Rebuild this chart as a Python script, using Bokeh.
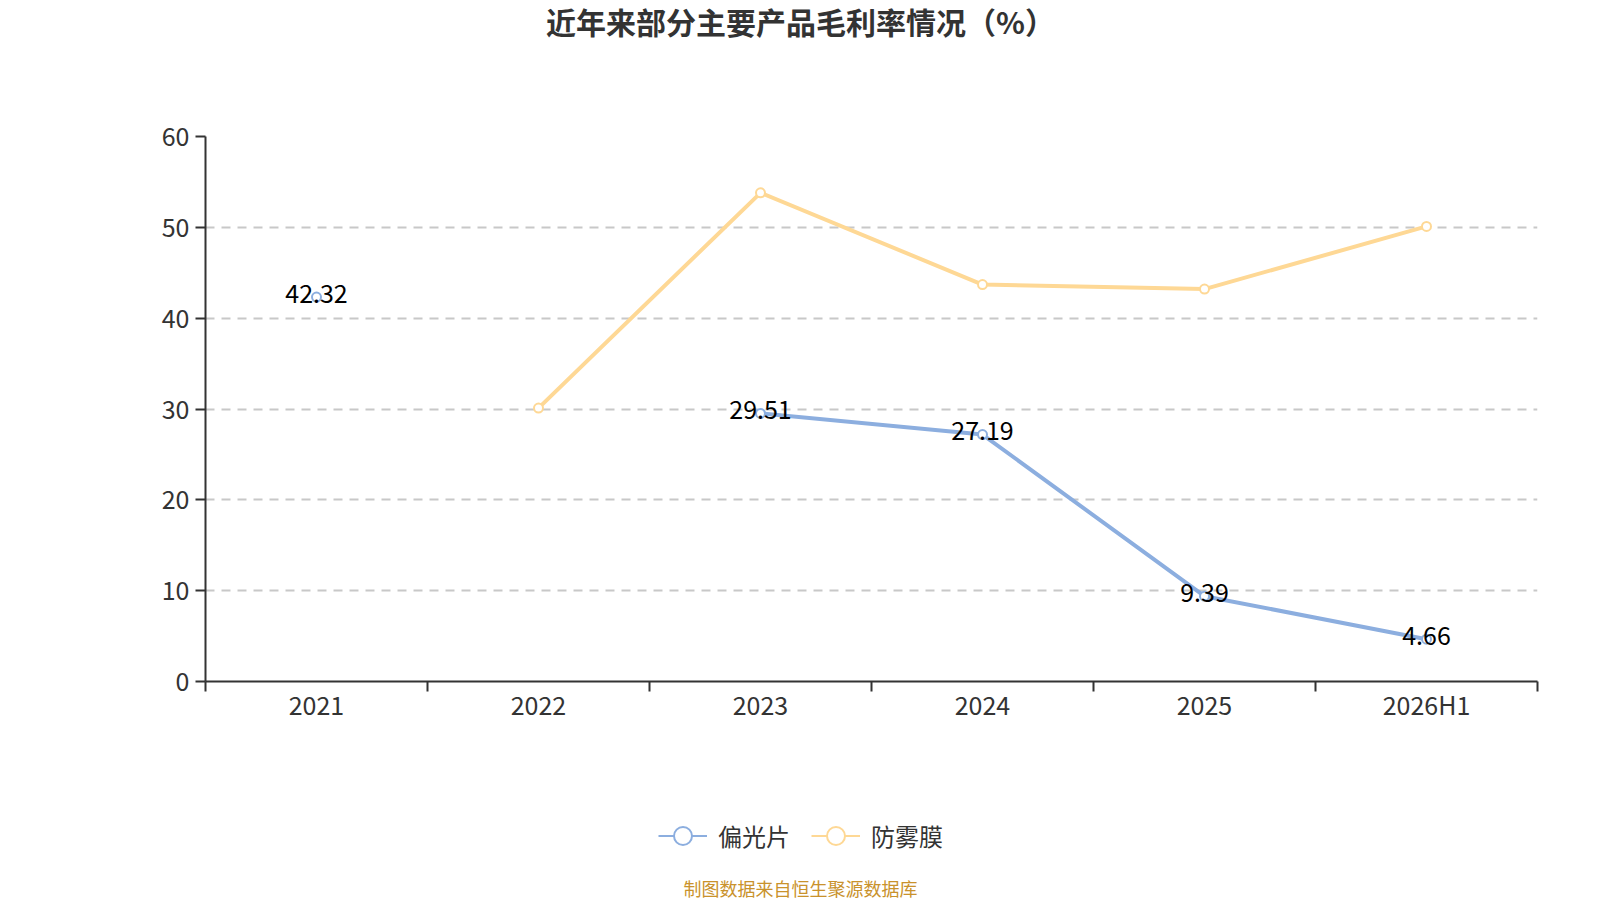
from bokeh.plotting import figure
from bokeh.layouts import column
from bokeh.models import (ColumnDataSource, FixedTicker, Range1d, Label, Legend, LegendItem)
from bokeh.core.properties import value
from bokeh.embed import file_html
from bokeh.resources import INLINE

# ---- data ----
categories = ["2021", "2022", "2023", "2024", "2025", "2026H1"]
polarizer = [42.32, None, 29.51, 27.19, 9.39, 4.66]      # 偏光片
antifog = [None, 30.1, 53.8, 43.7, 43.2, 50.1]          # 防雾膜
series_names = ["偏光片", "防雾膜"]
y_ticks = [0, 10, 20, 30, 40, 50, 60]
title_text = "近年来部分主要产品毛利率情况（%）"
source_text = "制图数据来自恒生聚源数据库"

FONT = "Noto Sans CJK SC"
BLUE = "#8caedf"
YELLOW = "#fed895"
AXIS = "#333333"
LEFT, FW, RIGHT = 205, 1332, 55

xs = [i + 1 for i in range(len(categories))]
nan = float("nan")
pol_y = [nan if v is None else v for v in polarizer]
af_y = [nan if v is None else v for v in antifog]

src = ColumnDataSource(dict(x=xs, pol=pol_y, af=af_y))
lab_x = [x for x, v in zip(xs, polarizer) if v is not None]
lab_y = [v for v in polarizer if v is not None]
lab_t = [f"{v:.2f}" for v in polarizer if v is not None]
lab_src = ColumnDataSource(dict(x=lab_x, y=lab_y, t=lab_t))


def blank(h):
    # strip whose data x equals page x, data y equals pixels from strip top
    f = figure(frame_width=FW, frame_height=h, min_border_left=LEFT, min_border_right=RIGHT,
               min_border_top=0, min_border_bottom=0,
               x_range=Range1d(LEFT, LEFT + FW), y_range=Range1d(h, 0),
               x_axis_type=None, y_axis_type=None,
               output_backend="svg", toolbar_location=None,
               background_fill_color="white", border_fill_color="white")
    f.outline_line_color = None
    f.xgrid.visible = False
    f.ygrid.visible = False
    return f

# ---- title strip ----
top = blank(60)
top.add_layout(Label(x=800, y=20.5, text=title_text, text_align="center",
                     text_baseline="middle", text_font=FONT, text_font_size="30px",
                     text_font_style="bold", text_color="#333333"))

# ---- main chart ----
p = figure(frame_width=FW, frame_height=545,
           min_border_left=LEFT, min_border_right=RIGHT,
           min_border_top=76, min_border_bottom=59,
           x_range=Range1d(0.5, len(categories) + 0.5),
           y_range=Range1d(0, 60),
           output_backend="svg", toolbar_location=None,
           background_fill_color="white", border_fill_color="white")
p.outline_line_color = None

p.xaxis.ticker = FixedTicker(ticks=xs, minor_ticks=[x - 0.5 for x in xs] + [xs[-1] + 0.5])
p.xaxis.major_label_overrides = {x: c for x, c in zip(xs, categories)}
p.xaxis.major_tick_line_color = None
p.xaxis.major_tick_out = 0
p.xaxis.major_tick_in = 0
p.xaxis.minor_tick_line_color = AXIS
p.xaxis.minor_tick_line_width = 2
p.xaxis.minor_tick_out = 10
p.xaxis.minor_tick_in = 0
p.xaxis.major_label_standoff = -6

p.yaxis.ticker = FixedTicker(ticks=y_ticks)
p.yaxis.minor_tick_line_color = None
p.yaxis.major_tick_out = 10
p.yaxis.major_tick_in = 0
p.yaxis.major_tick_line_width = 2
p.yaxis.major_tick_line_color = AXIS
p.yaxis.major_label_standoff = 6

for ax in (p.xaxis, p.yaxis):
    ax.axis_line_color = AXIS
    ax.axis_line_width = 2
    ax.major_label_text_font = FONT
    ax.major_label_text_font_size = "25px"
    ax.major_label_text_color = "#333333"

p.xgrid.grid_line_color = None
p.ygrid.ticker = FixedTicker(ticks=y_ticks)
p.ygrid.grid_line_color = "#c8c8c8"
p.ygrid.grid_line_width = 2
p.ygrid.grid_line_dash = "9 7"

p.line("x", "af", source=src, line_color=YELLOW, line_width=4)
p.scatter("x", "af", source=src, marker="circle", size=9, fill_color="white",
          line_color=YELLOW, line_width=2)
p.line("x", "pol", source=src, line_color=BLUE, line_width=4)
p.scatter("x", "pol", source=src, marker="circle", size=9, fill_color="white",
          line_color=BLUE, line_width=2)

p.text("x", "y", text="t", source=lab_src, text_align="center", text_baseline="middle",
       y_offset=-4, text_font=value(FONT), text_font_size="25px", text_color="#000000")

# ---- legend + source strip ----
BH = 159
bot = blank(BH)
# legend-only placeholder renderers, kept outside the visible strip
off = ColumnDataSource(dict(x=[-10000], y=[-10000]))
lb = bot.line("x", "y", source=off, line_color=BLUE, line_width=2)
sb = bot.scatter("x", "y", source=off, marker="circle", size=18, fill_color="white",
                 line_color=BLUE, line_width=2)
ly = bot.line("x", "y", source=off, line_color=YELLOW, line_width=2)
sy = bot.scatter("x", "y", source=off, marker="circle", size=18, fill_color="white",
                 line_color=YELLOW, line_width=2)
legend = Legend(items=[LegendItem(label=series_names[0], renderers=[lb, sb]),
                       LegendItem(label=series_names[1], renderers=[ly, sy])],
                location=(658 - LEFT, 41.5), orientation="horizontal",
                glyph_width=49, glyph_height=45, label_standoff=11, spacing=21,
                padding=0, margin=0,
                border_line_color=None, background_fill_alpha=0,
                label_text_font=FONT, label_text_font_size="24px",
                label_text_color="#333333")
bot.add_layout(legend, "center")
bot.add_layout(Label(x=800, y=147, text=source_text, text_align="center",
                     text_baseline="middle", text_font=FONT, text_font_size="18px",
                     text_color="#c9922c"))

layout = column(top, p, bot, spacing=0)
open("out.html", "w").write(file_html(layout, INLINE))
